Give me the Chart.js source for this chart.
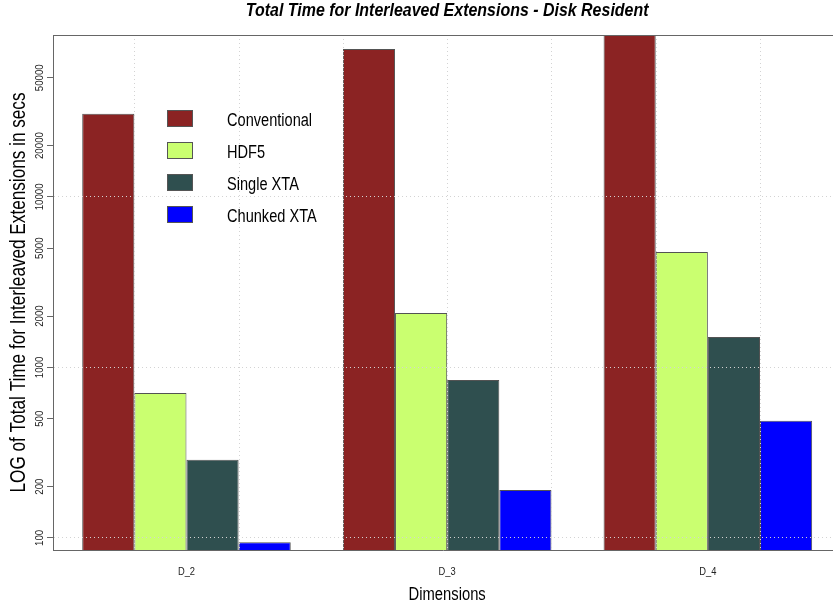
<!DOCTYPE html>
<html>
<head>
<meta charset="utf-8">
<title>Total Time for Interleaved Extensions - Disk Resident</title>
<script src="https://cdn.jsdelivr.net/npm/chart.js@4.4.1/dist/chart.umd.min.js"></script>
<style>
  html, body { margin: 0; padding: 0; background: #fff; overflow: hidden; }
  #wrap { width: 833px; height: 608px; position: relative; }
</style>
</head>
<body>
<div id="wrap"><canvas id="chart"></canvas></div>
<script>
// Dimensions on the x axis and one series per storage scheme (seconds)
const categories  = ['D_2', 'D_3', 'D_4'];
const seriesNames = ['Conventional', 'HDF5', 'Single XTA', 'Chunked XTA'];
const conventional = [30700, 73600, 89000];
const hdf5         = [708, 2087, 4754];
const singleXTA    = [287, 845, 1510];
const chunkedXTA   = [94.4, 191, 486];
const yTickValues  = [100, 200, 500, 1000, 2000, 5000, 10000, 20000, 50000];
const xGridValues  = [2, 4, 6, 8, 10, 12, 14];
const seriesColors = ['#8B2323', '#CAFF70', '#2F4F4F', '#0000FF'];

const chartTitle = 'Total Time for Interleaved Extensions - Disk Resident';
const xTitle = 'Dimensions';
const yTitle = 'LOG of Total Time for Interleaved Extensions in secs';

const FONT = '"Liberation Sans", Arial, Helvetica, sans-serif';

// Each dimension takes 5 bar-width units on the x axis: 4 bars plus a one-unit gap.
const groupCenter = i => 3 + 5 * i;
const seriesValues = [conventional, hdf5, singleXTA, chunkedXTA];
const flat = seriesValues.flat();
const yMin = 0.9 * Math.min(...flat);
const yMax = Math.max(...flat);

const datasets = seriesValues.map((vals, s) => ({
  label: seriesNames[s],
  data: vals.map((v, i) => ({ x: groupCenter(i), y: v })),
  backgroundColor: seriesColors[s],
  borderColor: 'rgba(25,25,25,0.75)',
  borderWidth: 1,
  categoryPercentage: 0.8,
  barPercentage: 1.0,
  xAxisID: 'x',
  yAxisID: 'y'
}));

const isDecade = v => Math.abs(Math.log10(v) - Math.round(Math.log10(v))) < 1e-9;

// Text in the narrow face used throughout the figure
function drawText(ctx, text, x, y, o) {
  ctx.save();
  ctx.translate(x, y);
  if (o.rotate) ctx.rotate(o.rotate);
  ctx.scale(o.k || 0.82, 1);
  ctx.font = o.font;
  ctx.textAlign = o.align || 'center';
  ctx.textBaseline = o.baseline || 'alphabetic';
  ctx.fillStyle = o.color || '#000';
  ctx.fillText(text, 0, 0);
  ctx.restore();
}

// Dotted vertical grid over the bars, at every second x unit
const xGrid = {
  id: 'xGrid',
  afterDatasetsDraw(chart) {
    const { ctx, chartArea: a } = chart;
    const xs = chart.scales.x;
    ctx.save();
    ctx.strokeStyle = '#d3d3d3';
    ctx.lineWidth = 1;
    ctx.setLineDash([1, 3]);
    xGridValues.forEach(v => {
      const px = Math.round(xs.getPixelForValue(v)) + 0.5;
      ctx.beginPath();
      ctx.moveTo(px, a.top);
      ctx.lineTo(px, a.bottom);
      ctx.stroke();
    });
    ctx.restore();
  }
};

// Plot box top edge, titles, tick labels and the inset legend
const decorations = {
  id: 'decorations',
  afterDraw(chart) {
    const { ctx, chartArea: a } = chart;
    const xs = chart.scales.x, ys = chart.scales.y;
    ctx.save();
    ctx.strokeStyle = '#666';
    ctx.lineWidth = 1;
    ctx.beginPath();
    ctx.moveTo(a.left, a.top + 0.5);
    ctx.lineTo(a.right, a.top + 0.5);
    ctx.stroke();
    ctx.restore();

    // centre of the full plot box (it runs past the right edge of the canvas)
    const boxCenter = (a.left + xs.getPixelForValue(15.56)) / 2;
    drawText(ctx, chartTitle, boxCenter, 16, { font: 'italic bold 19px ' + FONT, k: 0.84 });
    drawText(ctx, xTitle, boxCenter, 600, { font: '18px ' + FONT, k: 0.82 });
    drawText(ctx, yTitle, 25, (a.top + a.bottom) / 2, { font: '22px ' + FONT, k: 0.78, rotate: -Math.PI / 2 });

    categories.forEach((c, i) => {
      drawText(ctx, c, xs.getPixelForValue(groupCenter(i)), a.bottom + 25, { font: '11px ' + FONT, k: 0.85, color: '#222' });
    });

    yTickValues.forEach(v => {
      drawText(ctx, String(v), a.left - 10, ys.getPixelForValue(v), { font: '11px ' + FONT, k: 0.88, rotate: -Math.PI / 2, color: '#222' });
    });

    const x0 = a.left + 114, y0 = a.top + 75;
    chart.data.datasets.forEach((ds, i) => {
      const y = y0 + i * 32;
      ctx.save();
      ctx.fillStyle = ds.backgroundColor;
      ctx.fillRect(x0, y, 26, 17);
      ctx.strokeStyle = '#555';
      ctx.lineWidth = 1;
      ctx.strokeRect(x0 + 0.5, y + 0.5, 25, 16);
      ctx.restore();
      drawText(ctx, ds.label, x0 + 60, y + 16, { font: '18px ' + FONT, k: 0.81, align: 'left' });
    });
  }
};

new Chart(document.getElementById('chart'), {
  type: 'bar',
  data: { datasets },
  options: {
    responsive: true,
    maintainAspectRatio: false,
    animation: false,
    layout: { padding: { top: 35, left: 0, right: 0, bottom: 0 } },
    plugins: {
      legend: { display: false },
      tooltip: { enabled: false },
      title: { display: false }
    },
    scales: {
      x: {
        type: 'linear',
        min: 0.44,
        max: 15.40,
        offset: false,
        grid: { display: false, offset: false, drawTicks: false },
        border: { display: true, color: '#666', width: 1 },
        afterBuildTicks: s => { s.ticks = categories.map((c, i) => ({ value: groupCenter(i) })); },
        ticks: { display: false },
        title: { display: false },
        afterFit: s => { s.height = 58; }
      },
      y: {
        type: 'logarithmic',
        min: yMin,
        max: yMax,
        afterBuildTicks: s => { s.ticks = yTickValues.map(v => ({ value: v })); },
        ticks: { display: false },
        grid: {
          color: c => (c.tick && isDecade(c.tick.value)) ? '#d3d3d3' : 'rgba(0,0,0,0)',
          tickColor: '#666',
          tickLength: 6,
          lineWidth: 1,
          z: 1
        },
        border: { display: true, color: '#666', width: 1, dash: [1, 3], z: 1 },
        title: { display: false },
        afterFit: s => { s.width = 53; }
      }
    }
  },
  plugins: [xGrid, decorations]
});
</script>
</body>
</html>
